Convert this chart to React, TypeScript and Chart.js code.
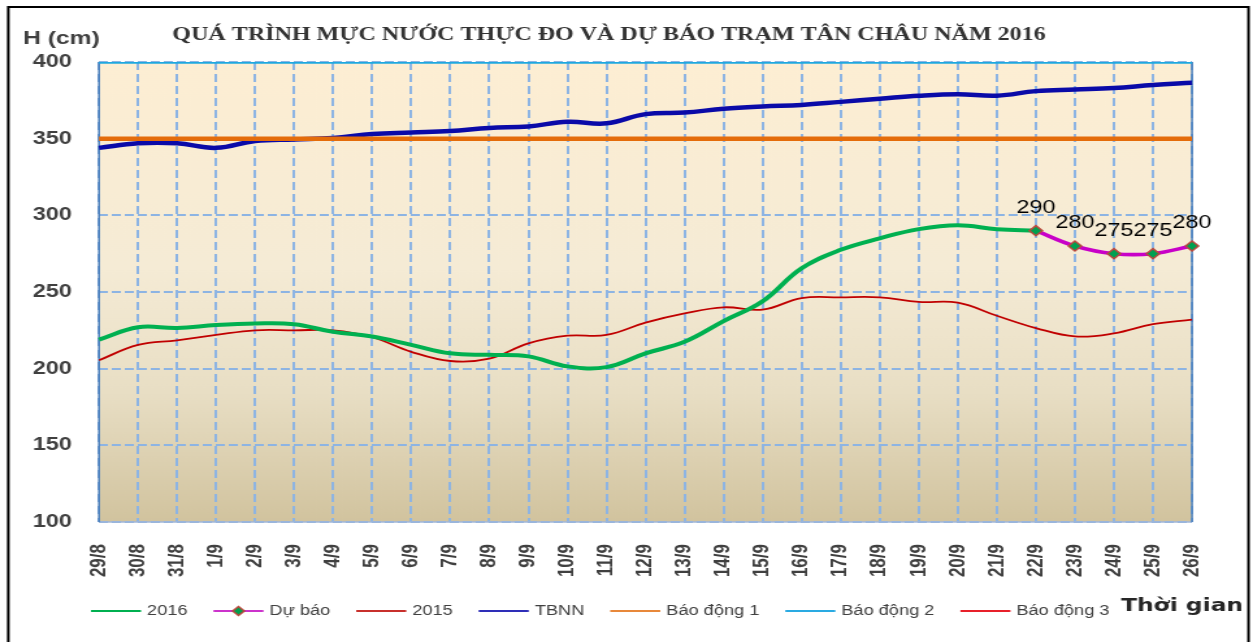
import React, { useEffect, useRef } from "react";
import { Chart, registerables } from "chart.js";

Chart.register(...registerables);

// ---------- data ----------
const categories = [
  "29/8", "30/8", "31/8", "1/9", "2/9", "3/9", "4/9", "5/9", "6/9", "7/9",
  "8/9", "9/9", "10/9", "11/9", "12/9", "13/9", "14/9", "15/9", "16/9", "17/9",
  "18/9", "19/9", "20/9", "21/9", "22/9", "23/9", "24/9", "25/9", "26/9",
];

const series2016 = [
  219, 227, 226.5, 228.5, 229.5, 229, 224, 221, 215.5, 210,
  209, 208, 201.5, 201, 210, 217.5, 231, 244, 265.5, 277.5,
  285, 291, 293.5, 291, 290, null, null, null, null,
];

const forecast = [
  null, null, null, null, null, null, null, null, null, null,
  null, null, null, null, null, null, null, null, null, null,
  null, null, null, null, 290, 280, 275, 275, 280,
];

const series2015 = [
  205.5, 215.5, 218.5, 222, 225, 225, 225, 220.5, 211, 205,
  206.5, 216.5, 221.5, 222, 230, 236, 240, 238.5, 246, 246.5,
  246.5, 243.5, 243, 234.5, 226.5, 221, 223, 229, 232,
];

const tbnn = [
  344, 347, 347, 344, 348.5, 349.5, 350.5, 353, 354, 355,
  357, 358, 361, 360, 366, 367, 369.5, 371, 372, 374,
  376, 378, 379, 378, 381, 382, 383, 385, 386.5,
];

const ALARM_1 = 350;
const ALARM_2 = 400;
const ALARM_3 = 450;

const yTicks = { min: 100, max: 400, step: 50 };

const TITLE = "QUÁ TRÌNH MỰC NƯỚC THỰC ĐO VÀ DỰ BÁO TRẠM TÂN CHÂU NĂM 2016";
const Y_LABEL = "H (cm)";
const X_LABEL = "Thời gian";

// ---------- layout ----------
const VIEW_W = 1253;
const VIEW_H = 642;
const CW = 964; // internal canvas width (drawn stretched horizontally)
const CH = 642;
const S = VIEW_W / CW;
const px = (realX: number) => realX / S;

const SANS = '"Liberation Sans", Arial, sans-serif';
const SERIF = '"Liberation Serif", "Times New Roman", serif';
const TEXT = "#404040";
const GRID = "#8DB4E3";

const bgPlugin = {
  id: "bgPlugin",
  beforeDraw(chart: any) {
    const { ctx, chartArea: a } = chart;
    ctx.save();
    ctx.fillStyle = "#ffffff";
    ctx.fillRect(0, 0, chart.width, chart.height);
    const g = ctx.createLinearGradient(0, a.top, 0, a.bottom);
    g.addColorStop(0, "#FDEED3");
    g.addColorStop(0.45, "#F5EBD5");
    g.addColorStop(0.72, "#E8DEC4");
    g.addColorStop(1, "#D1C39E");
    ctx.fillStyle = g;
    ctx.fillRect(a.left, a.top, a.right - a.left, a.bottom - a.top);
    ctx.restore();
  },
  beforeDatasetsDraw(chart: any) {
    const { ctx, chartArea: a } = chart;
    ctx.save();
    ctx.lineWidth = 1.5;
    ctx.strokeStyle = "#9FB6D8";
    ctx.beginPath();
    ctx.moveTo(a.left, a.bottom);
    ctx.lineTo(a.right, a.bottom);
    ctx.stroke();
    ctx.strokeStyle = "#4A7EBB";
    ctx.beginPath();
    ctx.moveTo(a.left, a.top);
    ctx.lineTo(a.left, a.bottom);
    ctx.moveTo(a.right, a.top);
    ctx.lineTo(a.right, a.bottom);
    ctx.stroke();
    ctx.restore();
  },
  afterDatasetsDraw(chart: any) {
    const { ctx } = chart;
    const idx = chart.data.datasets.findIndex((d: any) => d.label === "Dự báo");
    const meta = chart.getDatasetMeta(idx);
    ctx.save();
    ctx.fillStyle = "#000000";
    ctx.font = `18px ${SANS}`;
    ctx.textAlign = "center";
    ctx.textBaseline = "middle";
    meta.data.forEach((pt: any, i: number) => {
      const v = forecast[i];
      if (v == null) return;
      ctx.fillText(String(v), pt.x, pt.y - 23);
    });
    ctx.restore();
  },
  afterDraw(chart: any) {
    const { ctx } = chart;
    ctx.save();
    // title
    ctx.fillStyle = "#333333";
    ctx.font = `bold 18.5px ${SERIF}`;
    ctx.textAlign = "center";
    ctx.textBaseline = "alphabetic";
    ctx.fillText(TITLE, px(609), 40);
    // y label
    ctx.fillStyle = TEXT;
    ctx.font = `bold 19px ${SANS}`;
    ctx.textAlign = "left";
    ctx.fillText(Y_LABEL, px(23), 43.5);

    // legend
    const ly = 611;
    let x = px(91);
    const boxW = px(50);
    const gap = px(6);
    const pad = px(26);
    ctx.font = `14px ${SANS}`;
    ctx.textBaseline = "middle";
    chart.data.datasets.forEach((ds: any) => {
      ctx.strokeStyle = ds.legendColor || ds.borderColor;
      ctx.lineWidth = 2;
      ctx.beginPath();
      ctx.moveTo(x, ly);
      ctx.lineTo(x + boxW, ly);
      ctx.stroke();
      if (ds.pointRadius > 0) {
        const cx = x + boxW / 2;
        const r = 4.5;
        ctx.beginPath();
        ctx.moveTo(cx, ly - r);
        ctx.lineTo(cx + r, ly);
        ctx.lineTo(cx, ly + r);
        ctx.lineTo(cx - r, ly);
        ctx.closePath();
        ctx.fillStyle = ds.pointBackgroundColor;
        ctx.fill();
        ctx.lineWidth = 1.5;
        ctx.strokeStyle = ds.pointBorderColor;
        ctx.stroke();
      }
      ctx.fillStyle = TEXT;
      const tx = x + boxW + gap;
      ctx.fillText(ds.label, tx, ly + 0.5);
      x = tx + ctx.measureText(ds.label).width + pad;
    });

    // x label
    ctx.fillStyle = "#262626";
    ctx.font = `bold 18px "DejaVu Sans", ${SANS}`;
    ctx.textBaseline = "alphabetic";
    ctx.fillText(X_LABEL, px(1121), 611);

    // frame
    ctx.strokeStyle = "#000000";
    ctx.lineWidth = 2;
    ctx.strokeRect(px(8.3), 7, px(1248.5) - px(8.3), 660);
    ctx.restore();
  },
};

export default function App() {
  const ref = useRef<HTMLCanvasElement>(null);

  useEffect(() => {
    const canvas = ref.current;
    if (!canvas) return;
    const chart = new Chart(canvas, {
      type: "line",
      data: {
        labels: categories,
        datasets: [
          {
            label: "2016",
            data: series2016,
            borderColor: "#00B050",
            borderWidth: 4,
            pointRadius: 0,
            order: 1,
          },
          {
            label: "Dự báo",
            data: forecast,
            borderColor: "#C800C8",
            legendColor: "#CC33CC",
            borderWidth: 3.5,
            pointRadius: 5,
            pointStyle: "rectRot",
            pointBackgroundColor: "#00A050",
            pointBorderColor: "#B84A3E",
            pointBorderWidth: 1.5,
            order: 0,
          },
          {
            label: "2015",
            data: series2015,
            borderColor: "#C00000",
            legendColor: "#C8302C",
            borderWidth: 1.8,
            pointRadius: 0,
            order: 2,
          },
          {
            label: "TBNN",
            data: tbnn,
            borderColor: "#0A0AA8",
            legendColor: "#2E2EB8",
            borderWidth: 4.5,
            pointRadius: 0,
            order: 4,
          },
          {
            label: "Báo động 1",
            data: categories.map(() => ALARM_1),
            borderColor: "#E46C0A",
            legendColor: "#E8883A",
            borderWidth: 4.5,
            pointRadius: 0,
            tension: 0,
            order: 3,
          },
          {
            label: "Báo động 2",
            data: categories.map(() => ALARM_2),
            borderColor: "#1EA8E0",
            legendColor: "#2AAAE2",
            borderWidth: 3.5,
            pointRadius: 0,
            tension: 0,
            order: 5,
          },
          {
            label: "Báo động 3",
            data: categories.map(() => ALARM_3),
            borderColor: "#E8202A",
            borderWidth: 3,
            pointRadius: 0,
            tension: 0,
            order: 6,
          },
        ] as any,
      },
      options: {
        responsive: false,
        animation: false,
        devicePixelRatio: 1,
        layout: { padding: { left: 0, right: CW - px(1192), top: 62, bottom: 0 } },
        elements: { line: { tension: 0.4 } },
        plugins: {
          legend: { display: false },
          title: { display: false },
          tooltip: { enabled: false },
        },
        scales: {
          x: {
            grid: { color: GRID, lineWidth: 2, drawTicks: false },
            border: { display: false, dash: [8, 4] },
            ticks: {
              autoSkip: false,
              maxRotation: 90,
              minRotation: 90,
              padding: 22,
              color: TEXT,
              font: { family: SANS, size: 17, weight: "bold" },
            },
            afterFit: (s: any) => {
              s.height = 120;
            },
          },
          y: {
            min: yTicks.min,
            max: yTicks.max,
            ticks: {
              stepSize: yTicks.step,
              padding: 21,
              color: TEXT,
              font: { family: SANS, size: 18, weight: "bold" },
            },
            grid: { color: GRID, lineWidth: 2, drawTicks: false },
            border: { display: false, dash: [7, 3] },
            afterFit: (s: any) => {
              s.width = px(99);
            },
          },
        },
      } as any,
      plugins: [bgPlugin],
    });
    return () => chart.destroy();
  }, []);

  return (
    <canvas
      ref={ref}
      width={CW}
      height={CH}
      style={{
        position: "fixed",
        left: 0,
        top: 0,
        width: `${VIEW_W}px`,
        height: `${VIEW_H}px`,
      }}
    />
  );
}
